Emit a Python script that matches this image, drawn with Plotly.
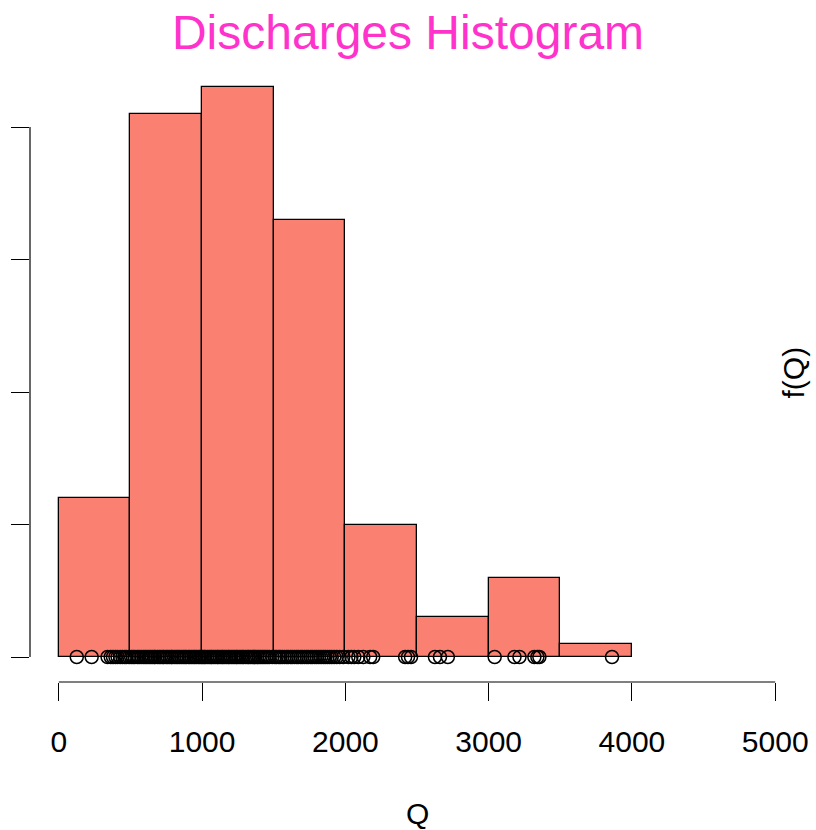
import plotly.graph_objects as go

# Discharge observations (m^3/s), grouped by the 500-wide class they fall into
q_0_500 = [125, 229, 340, 362, 378, 395, 410, 428, 444, 460, 472, 490]
q_500_1000 = [505, 518, 530, 548, 560, 575, 590, 602, 615, 628,
              640, 652, 665, 672, 688, 700, 712, 725, 733, 748,
              760, 772, 785, 790, 805, 818, 830, 842, 855, 868,
              880, 890, 905, 915, 928, 940, 950, 962, 975, 985, 996]
q_1000_1500 = [1004, 1015, 1022, 1035, 1048, 1060, 1068, 1080, 1092, 1105,
               1112, 1125, 1138, 1146, 1158, 1170, 1182, 1190, 1203, 1215,
               1226, 1238, 1245, 1258, 1270, 1282, 1290, 1305, 1318, 1326,
               1338, 1350, 1362, 1370, 1384, 1396, 1408, 1420, 1432, 1445,
               1458, 1470, 1490]
q_1500_2000 = [1508, 1520, 1535, 1546, 1560, 1575, 1590, 1602, 1618, 1630,
               1645, 1660, 1672, 1688, 1700, 1715, 1730, 1742, 1758, 1770,
               1786, 1800, 1815, 1830, 1846, 1860, 1875, 1890, 1905, 1922,
               1940, 1960, 1985]
q_2000_2500 = [2021, 2042, 2062, 2090, 2125, 2173, 2194, 2417, 2437, 2458]
q_2500_3000 = [2625, 2660, 2715]
q_3000_3500 = [3042, 3180, 3215, 3319, 3340, 3354]
q_3500_4000 = [3861]

discharges = (q_0_500 + q_500_1000 + q_1000_1500 + q_1500_2000
              + q_2000_2500 + q_2500_3000 + q_3000_3500 + q_3500_4000)

x_ticks = [0, 1000, 2000, 3000, 4000, 5000]
y_ticks = [0, 10, 20, 30, 40]

fig = go.Figure()

fig.add_trace(go.Histogram(
    x=discharges,
    xbins=dict(start=0, end=4000, size=500),
    marker=dict(color="#FA8072", line=dict(color="black", width=1.3)),
    hoverinfo="skip",
))

# rug of individual observations along the baseline
fig.add_trace(go.Scatter(
    x=discharges,
    y=[0] * len(discharges),
    mode="markers",
    marker=dict(symbol="circle-open", size=13, color="black",
                line=dict(color="black", width=1.5)),
    cliponaxis=False,
    hoverinfo="skip",
))

font = "Liberation Sans, Arial, Helvetica, sans-serif"

fig.update_layout(
    width=816, height=830,
    margin=dict(l=30, r=8, t=63, b=148),
    paper_bgcolor="white", plot_bgcolor="white",
    showlegend=False,
    bargap=0,
    font=dict(family=font, size=30, color="black"),
    title=dict(text="Discharges Histogram", x=0.5, xanchor="center",
               y=1 - 32 / 830, yanchor="middle",
               font=dict(family=font, size=48, color="#FF33CC")),
    xaxis=dict(range=[-201.4, 5201], tickvals=x_ticks,
               ticktext=[str(v) for v in x_ticks],
               ticks="outside", ticklen=18, tickwidth=1.2, tickcolor="black",
               showgrid=False, zeroline=False, showline=False,
               ticklabelstandoff=15, ticklabeloverflow="allow",
               tickfont=dict(family=font, size=30, color="black")),
    yaxis=dict(range=[-1.887, 44.83], tickvals=y_ticks,
               ticks="outside", ticklen=18, tickwidth=1.2, tickcolor="black",
               showgrid=False, zeroline=False, showline=False,
               showticklabels=False),
    shapes=[
        dict(type="line", xref="x", yref="paper", x0=0, x1=5000, y0=0, y1=0,
             line=dict(color="black", width=1.2)),
        dict(type="line", xref="paper", yref="y", x0=0, x1=0, y0=0, y1=40,
             line=dict(color="black", width=1.2)),
    ],
    annotations=[
        dict(text="Q", xref="paper", yref="paper", x=0.5, y=(682 - 813) / 619,
             xanchor="center", yanchor="middle", showarrow=False,
             font=dict(family=font, size=30, color="black")),
        dict(text="f(Q)", xref="paper", yref="paper", x=1, y=0.5,
             xshift=-11, xanchor="center", yanchor="middle", textangle=-90,
             showarrow=False,
             font=dict(family=font, size=30, color="black")),
    ],
)

fig.write_html("out.html")
